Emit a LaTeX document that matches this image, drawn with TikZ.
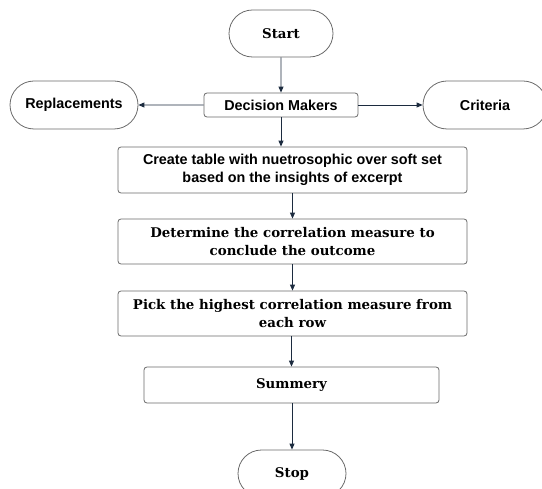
\documentclass[tikz,border=0pt]{standalone}
\usepackage{fontspec}
\setmainfont{DejaVu Serif}
\newfontfamily\sansfam{Liberation Sans}
\newfontfamily\seriffam{DejaVu Serif}
\usetikzlibrary{shapes.misc,arrows.meta}
\definecolor{edgegray}{HTML}{6A6A6A}
\definecolor{arrowcol}{HTML}{1C2B3F}
\tikzset{
  sanstxt/.style={font=\sansfam\bfseries\fontsize{14.4}{17.5}\selectfont},
  seriftxt/.style={font=\seriffam\bfseries\fontsize{13.4}{18}\selectfont},
  terminal/.style={rounded rectangle, draw=edgegray, line width=0.8pt, fill=white, inner sep=0pt},
  procbox/.style={rectangle, rounded corners=3pt, draw=edgegray, line width=0.8pt, fill=white, inner sep=0pt, align=center},
  conn/.style={draw=arrowcol, line width=0.9pt, -{Triangle[length=6pt,width=5pt]}}
}
\begin{document}
\begin{tikzpicture}[x=1bp,y=-1bp]
\useasboundingbox (0,0) rectangle (542,489);
\clip (0,0) rectangle (542,489);
\node[terminal, seriftxt, minimum width=104bp, minimum height=47bp] (start) at (281,33.5) {Start};
\node[procbox, sanstxt, minimum width=154bp, minimum height=24bp] (dm) at (281,105) {Decision Makers};
\node[terminal, sanstxt, minimum width=128bp, minimum height=48bp] (rep) at (74,105) {Replacements};
\node[terminal, sanstxt, minimum width=124bp, minimum height=48bp] (crit) at (485,105) {Criteria};
\node[procbox, sanstxt, minimum width=349bp, minimum height=46bp] (create) at (292.5,170) {Create table with nuetrosophic over soft set\\based on the insights of excerpt};
\node[procbox, seriftxt, minimum width=349bp, minimum height=45bp] (det) at (292.5,241.5) {Determine the correlation measure to\\conclude the outcome};
\node[procbox, seriftxt, minimum width=349bp, minimum height=45bp] (pick) at (292.5,313.5) {Pick the highest correlation measure from\\each row};
\node[procbox, seriftxt, minimum width=295bp, minimum height=36bp] (sum) at (291.5,385) {Summery};
\node[terminal, seriftxt, minimum width=108bp, minimum height=47bp] (stop) at (292,473.5) {Stop};
\draw[conn] (start) -- (dm);
\draw[conn] (dm) -- (rep);
\draw[conn] (dm) -- (crit);
\draw[conn] (dm.south) -- (dm.south |- create.north);
\draw[conn] (create.south -| det.north) -- (det.north);
\draw[conn] (det) -- (pick);
\draw[conn] (pick.south -| sum.north) -- (sum.north);
\draw[conn] (sum.south -| stop.north) -- (stop.north);
\end{tikzpicture}
\end{document}
